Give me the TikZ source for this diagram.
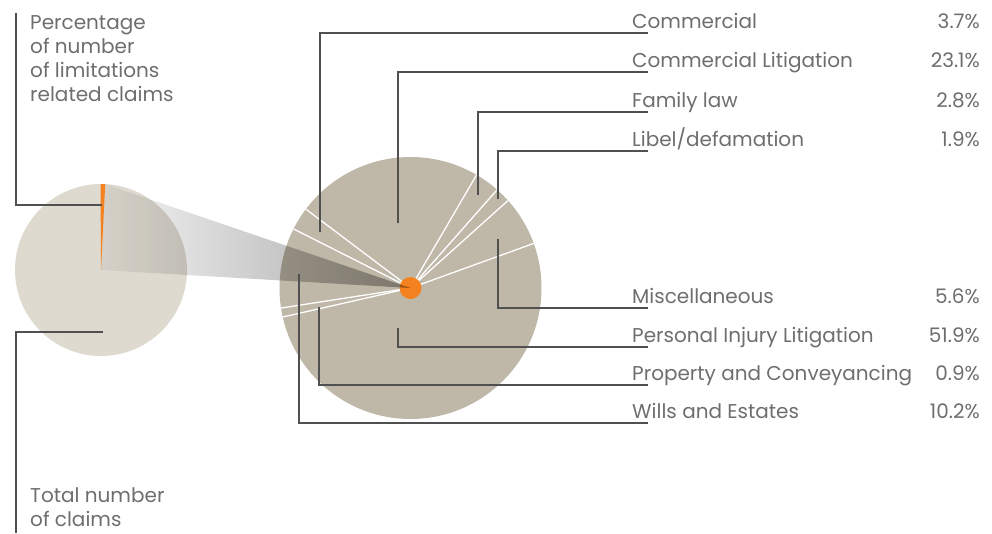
\documentclass[tikz,border=0pt]{standalone}
\usepackage{fontspec}
\setmainfont{Poppins}
\usepackage{tikz}
\definecolor{smallpie}{HTML}{DEDAD0}
\definecolor{bigpie}{HTML}{BFB7A7}
\definecolor{claimorange}{HTML}{F58220}
\definecolor{leadgrey}{HTML}{505050}
\definecolor{txtgrey}{HTML}{6E6E6E}

\begin{document}
\begin{tikzpicture}[x=1pt,y=-1pt,
  leaderline/.style={draw=leadgrey,line width=1.2pt},
  sepline/.style={draw=white,line width=1.3pt},
  lbl/.style={anchor=base west,inner sep=0pt,text=txtgrey,font=\fontsize{20}{24}\selectfont},
  pct/.style={lbl,anchor=base east}]
\useasboundingbox (0,0) rectangle (992,533);
\coordinate (sc) at (101,270);
\coordinate (bc) at (410.5,288);
\fill[smallpie] (sc) circle[radius=86];
\fill[claimorange] (sc) -- ++(-90.3:86) arc[start angle=-90.3,end angle=-87.2,radius=86] -- cycle;
\path (sc) ++(-87.2:86) coordinate (wedgetop);
\fill[bigpie] (bc) circle[radius=131];
\foreach \a in {19.9,41.9,48.6,59.7,143,153.2,188.8,192.8}
  \draw[sepline] (bc) -- ++(-\a:131);
\fill[claimorange] (bc) circle[radius=11];
\shade[left color=gray!8,right color=gray!70,blend mode=multiply] (wedgetop) -- (bc) -- (sc) -- cycle;

\node[lbl,align=left] (share) at (30,101) {Percentage\\of number\\of limitations\\related claims};
\node[lbl,align=left] (total) at (30,526) {Total number\\of claims};
\coordinate (sharetop) at (16,13);
\coordinate (sharept) at (102,205);
\coordinate (totalpt) at (103,332);
\coordinate (totalend) at (16,533);
\draw[leaderline] (sharetop) |- (sharept);
\draw[leaderline] (totalpt) -| (totalend);

\node[lbl] (com) at (632,28) {Commercial};
\node[lbl] (comlit) at (632,67) {Commercial Litigation};
\node[lbl] (fam) at (632,107) {Family law};
\node[lbl] (lib) at (632,146) {Libel/defamation};
\node[lbl] (misc) at (632,303) {Miscellaneous};
\node[lbl] (pil) at (632,342) {Personal Injury Litigation};
\node[lbl] (prop) at (632,380) {Property and Conveyancing};
\node[lbl] (wills) at (632,418) {Wills and Estates};
\node[pct] (comp) at (980,28) {3.7\%};
\node[pct] (comlitp) at (980,67) {23.1\%};
\node[pct] (famp) at (980,107) {2.8\%};
\node[pct] (libp) at (980,146) {1.9\%};
\node[pct] (miscp) at (980,303) {5.6\%};
\node[pct] (pilp) at (980,342) {51.9\%};
\node[pct] (propp) at (980,380) {0.9\%};
\node[pct] (willsp) at (980,418) {10.2\%};

\coordinate (pcom) at (320,232);
\coordinate (pcomlit) at (398,223);
\coordinate (pfam) at (478,195);
\coordinate (plib) at (498,199);
\coordinate (pmisc) at (498,239);
\coordinate (ppil) at (398,328);
\coordinate (pprop) at (319,307);
\coordinate (pwills) at (299,274);
\draw[leaderline] (pcom) |- ([xshift=16pt,yshift=-5pt]com.base west);
\draw[leaderline] (pcomlit) |- ([xshift=16pt,yshift=-5pt]comlit.base west);
\draw[leaderline] (pfam) |- ([xshift=16pt,yshift=-5pt]fam.base west);
\draw[leaderline] (plib) |- ([xshift=16pt,yshift=-5pt]lib.base west);
\draw[leaderline] (pmisc) |- ([xshift=16pt,yshift=-5pt]misc.base west);
\draw[leaderline] (ppil) |- ([xshift=16pt,yshift=-5pt]pil.base west);
\draw[leaderline] (pprop) |- ([xshift=16pt,yshift=-5pt]prop.base west);
\draw[leaderline] (pwills) |- ([xshift=16pt,yshift=-5pt]wills.base west);
\end{tikzpicture}
\end{document}
